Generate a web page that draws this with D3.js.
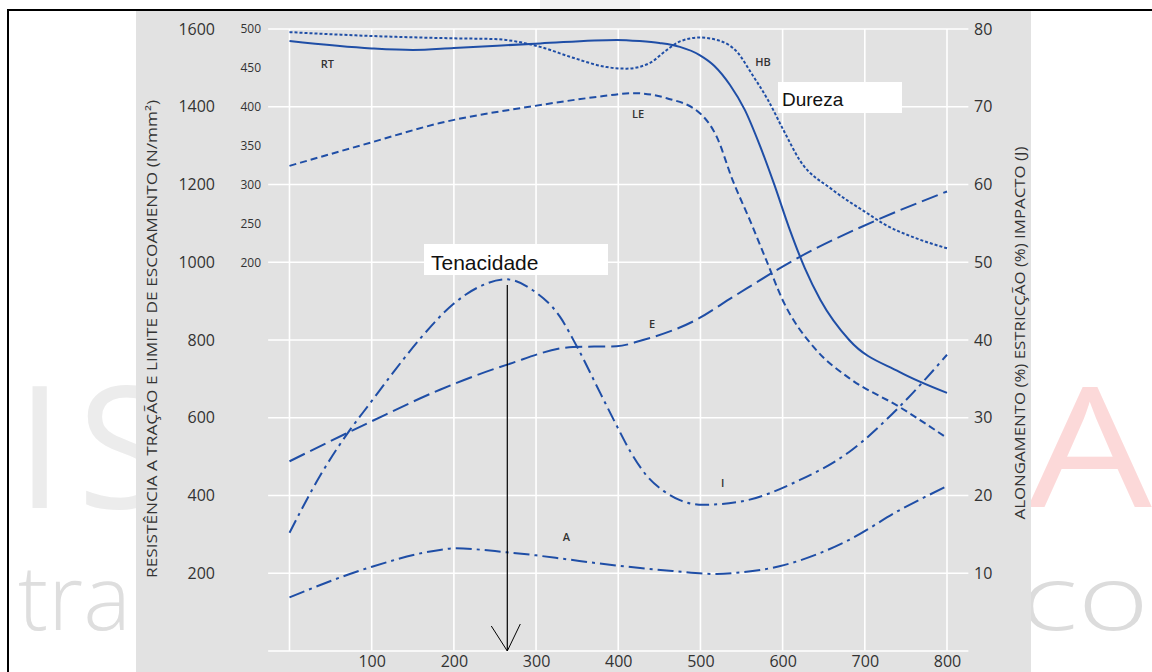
<!DOCTYPE html>
<html>
<head>
<meta charset="utf-8">
<script src="https://cdn.jsdelivr.net/npm/d3@7"></script>
<style>
  html, body { margin: 0; padding: 0; background: #fff; }
  svg { display: block; }
</style>
</head>
<body>
<div id="chart"></div>
<script>
const width = 1152;
const height = 672;

// temperature ticks (x), left axis N/mm², hardness HB, right axis %/J
const xTicks = [100, 200, 300, 400, 500, 600, 700, 800];
const leftTicks = [200, 400, 600, 800, 1000, 1200, 1400, 1600];
const hbTicks = [200, 250, 300, 350, 400, 450, 500];
const rightTicks = [10, 20, 30, 40, 50, 60, 70, 80];

// series: [temperature, value]
const rt = [[0,1569],[100,1550],[150,1546],[200,1551],[305,1563],[398,1572],[426,1569],[450,1564],[475,1554],[499,1533],[517,1505],[536,1456],[554,1392],[572,1302],[590,1199],[608,1088],[627,985],[646,903],[681,800],[742,718],[800,664]];
const le = [[0,1248],[99,1308],[183,1358],[298,1402],[377,1426],[418,1435],[459,1422],[499,1384],[520,1322],[539,1212],[560,1109],[580,1006],[600,903],[641,774],[681,702],[742,628],[800,548]];
const hb = [[0,496],[100,491],[200,488],[250,487],[305,477],[345,463],[386,451],[410,449],[438,456],[459,473],[475,484],[499,489],[523,485],[545,470],[562,443],[582,409],[601,370],[621,331],[661,293],[703,263],[722,250],[762,231],[800,218]];
const along = [[0,24.4],[99,29.5],[183,33.6],[264,36.8],[345,39.1],[398,39.2],[430,40.0],[495,42.6],[539,45.5],[621,50.7],[714,55.4],[800,59.1]];
const impacto = [[0,15.2],[37,22.5],[74,28.5],[99,32.0],[126,35.8],[160,40.3],[199,44.6],[230,46.8],[264,47.8],[296,46.4],[329,43.0],[350,39.1],[378,33.2],[398,29.0],[415,25.6],[435,22.5],[455,20.6],[475,19.4],[503,18.8],[548,19.2],[621,22.0],[681,25.6],[742,31.4],[800,38.1]];
const estric = [[0,6.9],[99,10.8],[183,13.0],[201,13.2],[264,12.7],[300,12.3],[337,11.8],[398,11.0],[466,10.3],[520,9.9],[548,10.1],[596,10.9],[681,14.3],[742,18.1],[800,21.2]];

const blue = "#1f4ea6";
const font = "'Open Sans', 'DejaVu Sans', sans-serif";

const svg = d3.select("#chart").append("svg")
    .attr("width", width)
    .attr("height", height);

// watermark behind the panel
const wm = svg.append("g").style("font-family", font);
wm.append("text").attr("x", 16).attr("y", 508).attr("font-size", 170)
    .attr("letter-spacing", 14).attr("fill", "#ececec").text("IS");
wm.append("text").attr("x", 18).attr("y", 630).attr("font-size", 90).attr("font-weight", 300)
    .attr("fill", "#dedede").text("tra");
wm.append("text").attr("transform", "translate(1028,507) scale(1.18,1)").attr("font-size", 166)
    .attr("fill", "#fcd9d9").text("A");
wm.append("text").attr("transform", "translate(1020,630) scale(1.35,1)").attr("font-size", 90).attr("font-weight", 300)
    .attr("fill", "#dcdcdc").text("co");
svg.append("rect").attr("x", 540).attr("y", 0).attr("width", 100).attr("height", 9).attr("fill", "#f1f1f1");

// frame
svg.append("line").attr("x1", 7).attr("x2", width).attr("y1", 10).attr("y2", 10)
    .attr("stroke", "#000").attr("stroke-width", 2);
svg.append("line").attr("x1", 8).attr("x2", 8).attr("y1", 10).attr("y2", height)
    .attr("stroke", "#000").attr("stroke-width", 2);

// gray panel
svg.append("rect").attr("x", 136).attr("y", 11).attr("width", 895).attr("height", height - 11)
    .attr("fill", "#e2e2e2");

const x = d3.scaleLinear().domain([0, 800]).range([289.5, 947]);
const yL = d3.scaleLinear().domain([0, 1600]).range([651, 29]);
const yR = d3.scaleLinear().domain([0, 80]).range([651, 29]);
const yH = d3.scaleLinear().domain([200, 500]).range([yL(1000), yL(1600)]);

// grid
svg.append("g").selectAll("line").data(d3.range(0, 1601, 200)).join("line")
    .attr("x1", x(-26)).attr("x2", x(826))
    .attr("y1", d => yL(d)).attr("y2", d => yL(d))
    .attr("stroke", "#fff").attr("stroke-width", 1.6);
svg.append("g").selectAll("line").data(d3.range(0, 801, 100)).join("line")
    .attr("x1", d => x(d)).attr("x2", d => x(d))
    .attr("y1", yL(1600)).attr("y2", yL(0))
    .attr("stroke", "#fff").attr("stroke-width", 1.6);

function styleAxis(g, size) {
    g.select(".domain").remove();
    g.selectAll("text").attr("fill", "#333").style("font-family", font).style("font-size", size + "px");
}

svg.append("g").attr("transform", "translate(217,0)")
    .call(d3.axisLeft(yL).tickValues(leftTicks).tickFormat(d3.format("d")).tickSize(0).tickPadding(2))
    .call(g => styleAxis(g, 16));
svg.append("g").attr("transform", "translate(263,0)")
    .call(d3.axisLeft(yH).tickValues(hbTicks).tickFormat(d3.format("d")).tickSize(0).tickPadding(2))
    .call(g => styleAxis(g, 12));
svg.append("g").attr("transform", "translate(972,0)")
    .call(d3.axisRight(yR).tickValues(rightTicks).tickSize(0).tickPadding(2))
    .call(g => styleAxis(g, 16));
svg.append("g").attr("transform", "translate(0,653)")
    .call(d3.axisBottom(x).tickValues(xTicks).tickSize(0).tickPadding(2))
    .call(g => styleAxis(g, 16))
    .call(g => g.selectAll("text").attr("dy", "0.72em"));

// axis titles
svg.append("text")
    .attr("transform", "translate(157,339) rotate(-90)")
    .attr("text-anchor", "middle")
    .attr("font-size", 14).attr("fill", "#333").style("font-family", font)
    .attr("textLength", 478).attr("lengthAdjust", "spacingAndGlyphs")
    .text("RESISTÊNCIA  A TRAÇÃO E LIMITE DE ESCOAMENTO (N/mm²)");
svg.append("text")
    .attr("transform", "translate(1025,333) rotate(-90)")
    .attr("text-anchor", "middle")
    .attr("font-size", 14).attr("fill", "#333").style("font-family", font)
    .attr("textLength", 373).attr("lengthAdjust", "spacingAndGlyphs")
    .text("ALONGAMENTO (%) ESTRICÇÃO (%) IMPACTO (J)");

// curves
const series = [
    { data: rt, y: yL, dash: null },
    { data: le, y: yL, dash: "7,4" },
    { data: hb, y: yH, dash: "3,2" },
    { data: along, y: yR, dash: "17,6" },
    { data: impacto, y: yR, dash: "14,5,3,5" },
    { data: estric, y: yR, dash: "16,5,3,5" }
];
series.forEach(s => {
    const line = d3.line()
        .x(d => x(d[0]))
        .y(d => s.y(d[1]))
        .curve(d3.curveMonotoneX);
    svg.append("path")
        .datum(s.data)
        .attr("d", line)
        .attr("fill", "none")
        .attr("stroke", blue)
        .attr("stroke-width", 2)
        .attr("stroke-dasharray", s.dash);
});

// curve labels (left-axis units for RT, LE, HB; right-axis units for E, I, A)
const curveLabels = [
    { t: "RT", x: 46, y: 1510, axis: "L" },
    { t: "HB", x: 576, y: 1515, axis: "L" },
    { t: "LE", x: 424, y: 1380, axis: "L" },
    { t: "E", x: 441, y: 42.0, axis: "R" },
    { t: "I", x: 527, y: 21.6, axis: "R" },
    { t: "A", x: 337, y: 14.6, axis: "R" }
];
svg.append("g").selectAll("text").data(curveLabels).join("text")
    .attr("x", d => x(d.x))
    .attr("y", d => d.axis === "L" ? yL(d.y) : yR(d.y))
    .attr("text-anchor", "middle")
    .attr("dy", "0.35em")
    .attr("font-size", 11).attr("font-weight", 600)
    .attr("fill", "#333").style("font-family", font)
    .text(d => d.t);

// annotation boxes
svg.append("rect").attr("x", 778).attr("y", 82).attr("width", 124).attr("height", 31).attr("fill", "#fff");
svg.append("text").attr("x", 782).attr("y", 106).attr("font-size", 19)
    .style("font-family", "'Liberation Sans', Arial, sans-serif").attr("fill", "#111").text("Dureza");
svg.append("rect").attr("x", 424).attr("y", 244).attr("width", 184).attr("height", 31).attr("fill", "#fff");
svg.append("text").attr("x", 431).attr("y", 270).attr("font-size", 21)
    .style("font-family", "'Liberation Sans', Arial, sans-serif").attr("fill", "#111").text("Tenacidade");

// arrow at the impact peak
const peakX = x(265);
svg.append("line").attr("x1", peakX).attr("x2", peakX).attr("y1", 285).attr("y2", yL(0))
    .attr("stroke", "#000").attr("stroke-width", 1.2);
svg.append("path")
    .attr("d", `M${peakX - 16},${yL(0) - 25}L${peakX},${yL(0)}L${peakX + 13},${yL(0) - 27}`)
    .attr("fill", "none").attr("stroke", "#000").attr("stroke-width", 1);
</script>
</body>
</html>
